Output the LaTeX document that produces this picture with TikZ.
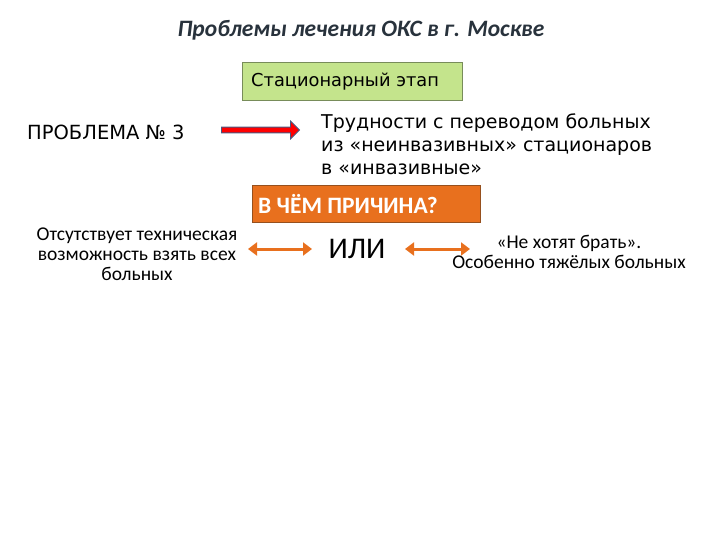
\documentclass[tikz,border=0pt]{standalone}
\usepackage{fontspec}
\setmainfont{Carlito}
\newfontfamily\wide{DejaVu Sans}
\usetikzlibrary{shapes.arrows,arrows.meta}
\definecolor{ttl}{RGB}{40,50,60}
\definecolor{grn}{RGB}{196,228,140}
\definecolor{grnd}{RGB}{120,140,90}
\definecolor{org}{RGB}{232,112,30}
\definecolor{orgd}{RGB}{150,80,30}
\definecolor{arrb}{RGB}{70,90,130}
\tikzset{txt/.style={inner sep=0pt,font=\fontsize{19.5}{20}\selectfont,align=center},
dbl/.style={draw=org,line width=3pt,{Triangle[length=9pt,width=13pt]}-{Triangle[length=9pt,width=13pt]}}}
\begin{document}
\begin{tikzpicture}[x=1pt,y=-1pt]
\useasboundingbox (0,0) rectangle (720,540);
\node[inner sep=0,font=\fontsize{23.5}{24}\selectfont\bfseries\itshape,text=ttl] (t) at (361,30) {Проблемы лечения ОКС в г. Москве};
\node[draw=grnd,fill=grn,line width=0.8pt,minimum width=220pt,minimum height=38pt,anchor=north west] (s) at (242,62) {};
\node[anchor=west,inner sep=0,font=\wide\fontsize{17.8}{18}\selectfont] at (s.west) [xshift=9pt] {Стационарный этап};
\node[anchor=west,inner sep=0,font=\wide\fontsize{19.5}{20}\selectfont] (p) at (27,132) {ПРОБЛЕМА № 3};
\node[single arrow,draw=arrb,fill=red,line width=0.8pt,minimum width=18pt,single arrow head extend=4pt,minimum height=78pt,inner sep=1.5pt] (ra) at (259,130) {};
\node[anchor=north west,inner sep=0,align=left,font=\wide\fontsize{19}{23}\selectfont] (d) at (321,114) {Трудности с переводом больных\\из «неинвазивных» стационаров\\в «инвазивные»};
\node[draw=orgd,fill=org,line width=0.8pt,minimum width=228pt,minimum height=37pt,anchor=north west] (o) at (252,185) {};
\node[anchor=west,inner sep=0,text=white,font=\fontsize{23.5}{24}\selectfont\bfseries] at (o.west) [xshift=6pt] {В ЧЁМ ПРИЧИНА?};
\node[txt] (l) at (137,254) {Отсутствует техническая\\возможность взять всех\\больных};
\node[inner sep=0,font=\fontsize{30}{30}\selectfont] (or) at (357,249) {ИЛИ};
\node[txt] (r) at (569,252) {«Не хотят брать».\\Особенно тяжёлых больных};
\coordinate (a1) at (248,249); \coordinate (a2) at (312,249);
\coordinate (b1) at (405,249); \coordinate (b2) at (470,249);
\draw[dbl] (a1) -- (a2);
\draw[dbl] (b1) -- (b2);
\end{tikzpicture}
\end{document}
